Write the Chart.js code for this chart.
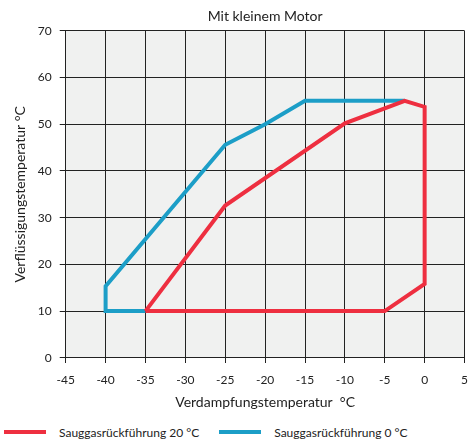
<!DOCTYPE html>
<html>
<head>
<meta charset="utf-8">
<script src="https://cdn.jsdelivr.net/npm/chart.js@4"></script>
<style>
  html, body { margin: 0; padding: 0; background: #fff; overflow: hidden; }
  #wrap { width: 468px; height: 411px; position: relative; }
  #legend { display: flex; align-items: center; height: 30px; padding-top: 12px; box-sizing: border-box; font-family: Lato, sans-serif; font-size: 12px; color: #222; }
  .item { display: flex; align-items: center; }
  .swatch { width: 42px; height: 4px; margin-right: 13px; }
</style>
</head>
<body>
<div id="wrap"><canvas id="chart"></canvas></div>
<div id="legend"></div>
<script>
// Data
const seriesNames = ["Sauggasrückführung 20 °C", "Sauggasrückführung 0 °C"];
const seriesColors = ["#ee2f40", "#1c9ec7"];

// Sauggasrückführung 20 °C (closed envelope)
const redX = [-35, -25, -10, -2.5, 0, 0, -5, -35];
const redY = [10, 32.6, 50.2, 55, 53.7, 15.8, 10, 10];

// Sauggasrückführung 0 °C
const blueX = [-35, -40, -40, -25, -20, -15, -2.5];
const blueY = [10, 10, 15.3, 45.6, 50, 55, 55];

const xTicks = [-45, -40, -35, -30, -25, -20, -15, -10, -5, 0, 5];
const yTicks = [0, 10, 20, 30, 40, 50, 60, 70];

function toPoints(xs, ys) {
  return xs.map((x, i) => ({ x: x, y: ys[i] }));
}

const fontFamily = "Lato, sans-serif";

// Grey plot background
const plotBg = {
  id: "plotBg",
  beforeDraw(chart) {
    const { ctx, chartArea } = chart;
    ctx.save();
    ctx.fillStyle = "#f0f1f0";
    ctx.fillRect(chartArea.left, chartArea.top, chartArea.right - chartArea.left, chartArea.bottom - chartArea.top);
    ctx.restore();
  }
};

const ctx = document.getElementById("chart").getContext("2d");
new Chart(ctx, {
  type: "scatter",
  data: {
    datasets: [
      {
        label: seriesNames[0],
        data: toPoints(redX, redY),
        borderColor: seriesColors[0],
        backgroundColor: seriesColors[0],
        borderWidth: 4,
        showLine: true,
        pointRadius: 0,
        borderJoinStyle: "miter"
      },
      {
        label: seriesNames[1],
        data: toPoints(blueX, blueY),
        borderColor: seriesColors[1],
        backgroundColor: seriesColors[1],
        borderWidth: 4,
        showLine: true,
        pointRadius: 0,
        borderJoinStyle: "miter"
      }
    ]
  },
  options: {
    responsive: true,
    maintainAspectRatio: false,
    animation: false,
    layout: { padding: { left: 12, right: 0, top: 0, bottom: 0 } },
    plugins: {
      legend: { display: false },
      tooltip: { enabled: false },
      title: {
        display: true,
        fullSize: false,
        text: "Mit kleinem Motor",
        color: "#222",
        font: { family: fontFamily, size: 14, weight: "normal" },
        padding: { top: 8, bottom: 6 }
      }
    },
    scales: {
      x: {
        type: "linear",
        min: -45,
        max: 5,
        afterBuildTicks(axis) { axis.ticks = xTicks.map(v => ({ value: v })); },
        // long tick length pushes the labels down, the dash keeps the visible mark short
        grid: { color: "#222", lineWidth: 1, tickLength: 15, tickColor: "#222", tickBorderDash: [5, 40] },
        border: { color: "#222", width: 1 },
        ticks: { color: "#222", font: { family: fontFamily, size: 12 }, padding: 0 },
        title: {
          display: true,
          text: "Verdampfungstemperatur  °C",
          color: "#222",
          font: { family: fontFamily, size: 14 },
          padding: { top: 7, bottom: 0 }
        }
      },
      y: {
        type: "linear",
        min: 0,
        max: 70,
        afterBuildTicks(axis) { axis.ticks = yTicks.map(v => ({ value: v })); },
        grid: { color: "#222", lineWidth: 1, tickLength: 6, tickColor: "#222" },
        border: { color: "#222", width: 1 },
        ticks: { color: "#222", font: { family: fontFamily, size: 12 }, padding: 8 },
        title: {
          display: true,
          text: "Verflüssigungstemperatur °C",
          color: "#222",
          font: { family: fontFamily, size: 14 },
          padding: { top: 0, bottom: 1 }
        }
      }
    }
  },
  plugins: [plotBg]
});

// HTML legend under the chart
const legend = document.getElementById("legend");
seriesNames.forEach((name, i) => {
  const item = document.createElement("div");
  item.className = "item";
  item.style.marginLeft = i === 0 ? "4px" : "20px";
  item.innerHTML = `<span class="swatch" style="background:${seriesColors[i]}"></span><span>${name}</span>`;
  legend.appendChild(item);
});
</script>
</body>
</html>
